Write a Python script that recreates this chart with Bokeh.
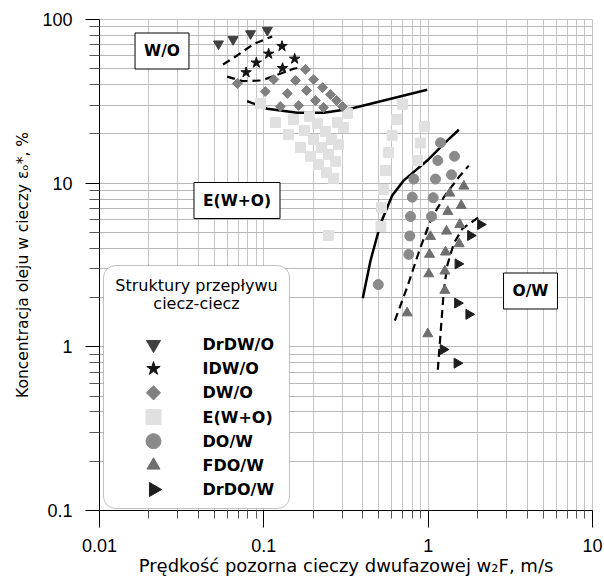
import numpy as np
from bokeh.plotting import figure
from bokeh.models import Range1d, FixedTicker, Label, BoxAnnotation
from bokeh.embed import file_html
from bokeh.resources import INLINE

# ---------------- data ----------------
x_ticks = [0.01, 0.1, 1, 10]
x_tick_labels = ["0.01", "0.1", "1", "10"]
y_ticks = [0.1, 1, 10, 100]
y_tick_labels = ["0.1", "1", "10", "100"]

drdwo_x = [0.053, 0.065, 0.083, 0.105]
drdwo_y = [71.0, 75.5, 82.0, 86.0]

idwo_x = [0.129, 0.107, 0.154, 0.090, 0.130, 0.078]
idwo_y = [68.7, 61.7, 57.5, 54.4, 50.4, 47.5]

dwo_x = [0.069, 0.115, 0.179, 0.156, 0.201, 0.102, 0.139, 0.182,
         0.228, 0.254, 0.277, 0.206, 0.126, 0.163, 0.231, 0.301]
dwo_y = [40.6, 43.0, 49.5, 42.4, 43.0, 36.3, 35.3, 36.8,
         38.4, 34.8, 32.0, 32.0, 29.4, 29.8, 29.0, 29.4]

ewo_x = [0.0954, 0.1178, 0.1516, 0.1896, 0.2121, 0.2807, 0.3054, 0.3231,
         0.1413, 0.1768, 0.2373, 0.2006, 0.2581, 0.2847, 0.1672, 0.2244,
         0.2474, 0.1923, 0.2730, 0.2151, 0.2407, 0.2655, 0.2474,
         0.698, 0.642, 0.603, 0.574, 0.550, 0.535, 0.520, 0.516,
         0.950, 0.898, 0.861]
ewo_y = [30.7, 23.5, 24.5, 25.5, 23.1, 23.5, 21.9, 26.7,
         19.8, 21.0, 20.7, 18.5, 18.5, 17.2, 16.5, 16.5,
         15.0, 14.6, 13.6, 13.0, 11.6, 10.7, 4.79,
         30.3, 24.5, 19.6, 15.4, 11.95, 9.15, 7.1, 5.44,
         22.2, 17.6, 13.75]

dow_x = [1.189, 1.145, 1.446, 0.818, 1.108, 1.387, 0.800, 1.073,
         0.781, 1.048, 0.773, 0.762, 0.497]
dow_y = [17.65, 13.75, 14.6, 10.6, 10.6, 11.25, 8.21, 8.15,
         6.26, 6.26, 4.76, 3.67, 2.40]

fdow_x = [1.648, 1.354, 1.589, 1.317, 1.558, 1.293, 1.033, 1.545,
          1.019, 1.275, 1.009, 1.263, 1.263, 0.745, 0.995]
fdow_y = [9.58, 8.68, 7.30, 6.71, 5.59, 5.09, 4.72, 4.26,
          3.67, 3.79, 2.79, 2.90, 2.21, 1.61, 1.20]

drdow_x = [2.083, 1.810, 1.519, 1.509, 1.767, 1.234, 1.498]
drdow_y = [5.59, 4.79, 3.21, 1.85, 1.58, 0.963, 0.795]

# boundary curves
solid1_x = [0.079, 0.105, 0.160, 0.232, 0.337, 0.537, 0.987]
solid1_y = [31.7, 28.5, 26.9, 26.9, 28.5, 32.0, 37.2]
solid2_x = [0.400, 0.446, 0.513, 0.604, 0.711, 0.987, 1.245, 1.537]
solid2_y = [1.98, 3.37, 5.65, 8.41, 10.4, 13.75, 17.4, 21.2]
dash1_x = [0.0564, 0.0689, 0.0869, 0.1124]
dash1_y = [53.1, 60.3, 71.0, 78.7]
dash2_x = [0.0598, 0.0742, 0.0968, 0.1245, 0.1516, 0.1688]
dash2_y = [44.8, 42.0, 42.4, 46.5, 50.0, 51.1]
dash3_x = [0.627, 0.745, 0.877, 1.033, 1.245, 1.537, 1.767]
dash3_y = [1.448, 2.31, 3.79, 5.91, 8.21, 10.9, 12.8]
dash4_x = [1.145, 1.189, 1.245, 1.311, 1.432, 1.618, 2.133]
dash4_y = [0.724, 1.20, 2.21, 3.18, 4.28, 5.28, 6.41]

legend_labels = ["DrDW/O", "IDW/O", "DW/O", "E(W+O)", "DO/W", "FDO/W", "DrDO/W"]
legend_title = ["Struktury przepływu", "ciecz-ciecz"]
region_labels = ["W/O", "E(W+O)", "O/W"]

# ---------------- layout constants (pixels) ----------------
W, H = 604, 581
FRAME_L, FRAME_T, FRAME_R, FRAME_B = 99, 19, 592, 510
DEC_X = (FRAME_R - FRAME_L) / 3.0
DEC_Y = (FRAME_B - FRAME_T) / 3.0


def px2x(px):
    return 10 ** (np.log10(x_ticks[0]) + (px - FRAME_L) / DEC_X)


def px2y(py):
    return 10 ** (np.log10(y_ticks[-1]) - (py - FRAME_T) / DEC_Y)


TICK_FONT = "Liberation Sans"
TEXT_FONT = "DejaVu Sans"

p = figure(width=W, height=H, x_axis_type="log", y_axis_type="log",
           x_range=Range1d(x_ticks[0], x_ticks[-1]), y_range=Range1d(y_ticks[0], y_ticks[-1]),
           output_backend="svg", toolbar_location=None,
           min_border_left=FRAME_L, min_border_right=W - FRAME_R,
           min_border_top=FRAME_T, min_border_bottom=H - FRAME_B)
p.background_fill_color = "white"
p.border_fill_color = "white"
p.outline_line_color = "#c4c4c4"

x_minor = [k * 10.0 ** e for e in (-2, -1, 0) for k in range(2, 10)]
y_minor = [k * 10.0 ** e for e in (-1, 0, 1) for k in range(2, 10)]
p.xaxis.ticker = FixedTicker(ticks=x_ticks, minor_ticks=x_minor)
p.yaxis.ticker = FixedTicker(ticks=y_ticks, minor_ticks=y_minor)
p.xaxis.major_label_overrides = {t: l for t, l in zip(x_ticks, x_tick_labels)}
p.yaxis.major_label_overrides = {t: l for t, l in zip(y_ticks, y_tick_labels)}

for ax in (p.xaxis, p.yaxis):
    ax.axis_line_color = "black"
    ax.major_tick_line_color = "black"
    ax.minor_tick_line_color = "#555555"
    ax.major_tick_in = 0
    ax.minor_tick_in = 0
    ax.major_label_text_font = TICK_FONT
    ax.major_label_text_font_size = "18px"
    ax.major_label_text_color = "black"
    ax.axis_label_text_font = TEXT_FONT
    ax.axis_label_text_font_style = "normal"
    ax.axis_label_text_color = "black"

p.xaxis.major_tick_out = 17
p.xaxis.minor_tick_out = 8
p.xaxis.major_label_standoff = 11
p.xaxis.axis_label_standoff = 0
p.xaxis.axis_label_text_font_size = "18px"
p.xaxis.axis_label = "Prędkość pozorna cieczy dwufazowej w₂F, m/s"

p.yaxis.major_tick_out = 14
p.yaxis.minor_tick_out = 10
p.yaxis.major_label_standoff = 13
p.yaxis.axis_label_standoff = 7
p.yaxis.axis_label_text_font_size = "15.5px"
p.yaxis.axis_label = "Koncentracja oleju w cieczy εₒ*, %"

p.xgrid.grid_line_color = "#c6c6c6"
p.xgrid.minor_grid_line_color = "#c6c6c6"
p.ygrid.grid_line_color = "#b8b8b8"
p.ygrid.minor_grid_line_color = "#b8b8b8"

# boundary lines
for xs, ys in ((solid1_x, solid1_y), (solid2_x, solid2_y)):
    p.line(xs, ys, line_color="black", line_width=2.5)
for xs, ys in ((dash1_x, dash1_y), (dash2_x, dash2_y), (dash3_x, dash3_y), (dash4_x, dash4_y)):
    p.line(xs, ys, line_color="black", line_width=2.2, line_dash="8 5")

# marker styles: (marker, angle, plot size, legend size, colour)
styles = [
    ("inverted_triangle", 0.0, 10, 14, "#404040"),
    ("star", 0.0, 11, 14, "#151515"),
    ("square", np.pi / 4, 7, 10, "#808080"),
    ("square", 0.0, 10, 15, "#e0e0e0"),
    ("circle", 0.0, 10, 15, "#8a8a8a"),
    ("triangle", 0.0, 10, 13, "#6e6e6e"),
    ("triangle", -np.pi / 2, 10, 14, "#1e1e1e"),
]
series = [(drdwo_x, drdwo_y), (idwo_x, idwo_y), (dwo_x, dwo_y), (ewo_x, ewo_y),
          (dow_x, dow_y), (fdow_x, fdow_y), (drdow_x, drdow_y)]
draw_order = [3, 2, 0, 1, 4, 5, 6]
for i in draw_order:
    mk, ang, sz, _, col = styles[i]
    xs, ys = series[i]
    p.scatter(xs, ys, marker=mk, angle=ang, size=sz, color=col)

# region labels
for txt, (cx, cy) in zip(region_labels, [(161.5, 50.5), (236.5, 200), (530, 290.5)]):
    p.add_layout(Label(x=px2x(cx), y=px2y(cy), text=txt, text_align="center", text_baseline="middle",
                       text_font=TEXT_FONT, text_font_size="15.5px", text_font_style="bold",
                       text_color="black", background_fill_color="white",
                       border_line_color="black", border_line_width=1, padding=9))

# legend (drawn by hand so that swatches can be large and rotated)
LEG_L, LEG_R, LEG_T, LEG_B = 103, 289, 265, 508
p.add_layout(BoxAnnotation(left=px2x(LEG_L), right=px2x(LEG_R), bottom=px2y(LEG_B), top=px2y(LEG_T),
                           fill_color="white", fill_alpha=1.0, line_color="#333333",
                           line_width=1, border_radius=12))
for txt, ty in zip(legend_title, [285, 303]):
    p.add_layout(Label(x=px2x((LEG_L + LEG_R) / 2), y=px2y(ty), text=txt, text_align="center",
                       text_baseline="middle", text_font=TEXT_FONT, text_font_size="16px",
                       text_color="black"))
SW_X, LAB_X, ROW0, ROW_STEP = 153, 202, 344, 24.17
for i, (lab, (mk, ang, _, lsz, col)) in enumerate(zip(legend_labels, styles)):
    ry = ROW0 + ROW_STEP * i
    p.scatter([px2x(SW_X)], [px2y(ry)], marker=mk, angle=ang, size=lsz, color=col, level="overlay")
    p.add_layout(Label(x=px2x(LAB_X), y=px2y(ry), text=lab, text_align="left", text_baseline="middle",
                       text_font=TEXT_FONT, text_font_size="16px", text_font_style="bold",
                       text_color="black"))

open("out.html", "w").write(file_html(p, INLINE))
